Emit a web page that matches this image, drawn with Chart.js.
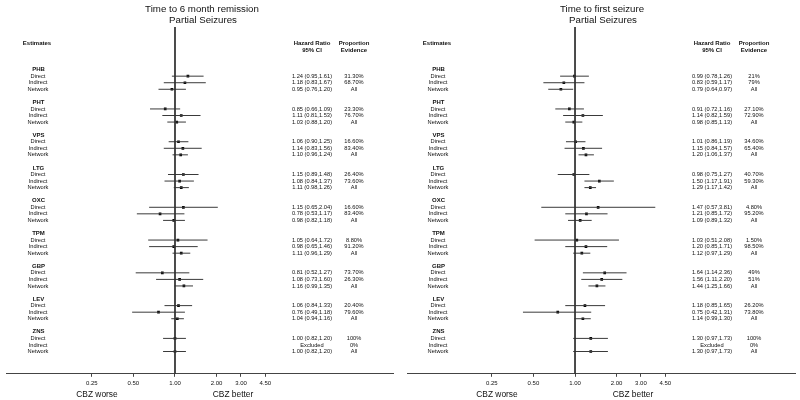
<!DOCTYPE html>
<html>
<head>
<meta charset="utf-8">
<script src="https://cdn.jsdelivr.net/npm/chart.js@4.4.1/dist/chart.umd.min.js"></script>
<style>
  body { margin: 0; background: #fff; }
  canvas { position: absolute; top: 0; }
</style>
</head>
<body>
<canvas id="remission" width="400" height="400" style="left:0"></canvas>
<canvas id="seizure" width="400" height="400" style="left:400px"></canvas>
<script>
const drugs = ["PHB", "PHT", "VPS", "LTG", "OXC", "TPM", "GBP", "LEV", "ZNS"];
const estimates = ["Direct", "Indirect", "Network"];
const axisTicks = [0.25, 0.5, 1, 2, 3, 4.5];

// time to 6 month remission (3 rows per drug: direct, indirect, network)
const remHR = [1.24, 1.18, 0.95, 0.85, 1.11, 1.03, 1.06, 1.14, 1.10, 1.15, 1.08, 1.11, 1.15, 0.78, 0.98,
  1.05, 0.98, 1.11, 0.81, 1.08, 1.16, 1.06, 0.76, 1.04, 1.00, null, 1.00];
const remLo = [0.95, 0.83, 0.76, 0.66, 0.81, 0.88, 0.90, 0.83, 0.96, 0.89, 0.84, 0.98, 0.65, 0.53, 0.82,
  0.64, 0.65, 0.96, 0.52, 0.73, 0.99, 0.84, 0.49, 0.94, 0.82, null, 0.82];
const remHi = [1.61, 1.67, 1.20, 1.09, 1.53, 1.20, 1.25, 1.56, 1.24, 1.48, 1.37, 1.26, 2.04, 1.17, 1.18,
  1.72, 1.46, 1.29, 1.27, 1.60, 1.35, 1.33, 1.18, 1.16, 1.20, null, 1.20];
const remProp = ["31.30%", "68.70%", "All", "23.30%", "76.70%", "All", "16.60%", "83.40%", "All",
  "26.40%", "73.60%", "All", "16.60%", "83.40%", "All", "8.80%", "91.20%", "All",
  "73.70%", "26.30%", "All", "20.40%", "79.60%", "All", "100%", "0%", "All"];

// time to first seizure
const seizHR = [0.99, 0.83, 0.79, 0.91, 1.14, 0.98, 1.01, 1.15, 1.20, 0.98, 1.50, 1.29, 1.47, 1.21, 1.09,
  1.03, 1.20, 1.12, 1.64, 1.56, 1.44, 1.18, 0.75, 1.14, 1.30, null, 1.30];
const seizLo = [0.78, 0.59, 0.64, 0.72, 0.82, 0.85, 0.86, 0.84, 1.06, 0.75, 1.17, 1.17, 0.57, 0.85, 0.89,
  0.51, 0.85, 0.97, 1.14, 1.11, 1.25, 0.85, 0.42, 0.99, 0.97, null, 0.97];
const seizHi = [1.26, 1.17, 0.97, 1.16, 1.59, 1.13, 1.19, 1.57, 1.37, 1.27, 1.91, 1.42, 3.81, 1.72, 1.32,
  2.08, 1.71, 1.29, 2.36, 2.20, 1.66, 1.65, 1.31, 1.30, 1.73, null, 1.73];
const seizProp = ["21%", "79%", "All", "27.10%", "72.90%", "All", "34.60%", "65.40%", "All",
  "40.70%", "59.30%", "All", "4.80%", "95.20%", "All", "1.50%", "98.50%", "All",
  "49%", "51%", "All", "26.20%", "73.80%", "All", "100%", "0%", "All"];

const FONT = "'Liberation Sans', Arial, sans-serif";
const rowOf = (i) => Math.floor(i / 3) * 5 + 1 + (i % 3);

function makeChart(id, titleLines, hr, lo, hi, prop, pad, xMin, xMax) {
  let datasets = [];
  datasets.push({
    data: [{x: 1, y: -6.5}, {x: 1, y: 46.4}],
    showLine: true, borderColor: "#333", borderWidth: 1, pointRadius: 0
  });
  hr.forEach((v, i) => {
    if (v === null) return;
    datasets.push({
      data: [{x: lo[i], y: rowOf(i)}, {x: hi[i], y: rowOf(i)}],
      showLine: true, borderColor: "#3a3a3a", borderWidth: 1, pointRadius: 0
    });
  });
  datasets.push({
    data: hr.map((v, i) => v === null ? null : {x: v, y: rowOf(i)}).filter(p => p),
    pointStyle: "rect", pointRadius: 1.9, backgroundColor: "#000", borderWidth: 0
  });

  const textPlugin = {
    id: "forestText",
    afterDraw(chart) {
      const ctx = chart.ctx;
      const y = chart.scales.y;
      ctx.save();
      ctx.fillStyle = "#111";
      ctx.textAlign = "center";
      ctx.textBaseline = "middle";

      ctx.font = "9.7px " + FONT;
      ctx.fillText(titleLines[0], 202, 9);
      ctx.fillText(titleLines[1], 203, 20);

      ctx.font = "bold 6px " + FONT;
      ctx.fillText("Estimates", 37, y.getPixelForValue(-4));
      ctx.fillText("Hazard Ratio", 312, y.getPixelForValue(-4));
      ctx.fillText("95% CI", 312, y.getPixelForValue(-3));
      ctx.fillText("Proportion", 354, y.getPixelForValue(-4));
      ctx.fillText("Evidence", 354, y.getPixelForValue(-3));

      drugs.forEach((d, g) => {
        ctx.font = "bold 6px " + FONT;
        ctx.fillText(d, 38.5, y.getPixelForValue(g * 5));
      });
      ctx.font = "5.7px " + FONT;
      hr.forEach((v, i) => {
        const py = y.getPixelForValue(rowOf(i));
        ctx.fillText(estimates[i % 3], 38, py);
        const ci = v === null ? "Excluded"
          : v.toFixed(2) + " (" + lo[i].toFixed(2) + "," + hi[i].toFixed(2) + ")";
        ctx.fillText(ci, 312, py);
        ctx.fillText(prop[i], 354, py);
      });

      ctx.font = "8.4px " + FONT;
      ctx.fillText("CBZ worse", 97, 394.5);
      ctx.fillText("CBZ better", 233, 394.5);
      ctx.restore();
    }
  };

  new Chart(document.getElementById(id), {
    type: "scatter",
    data: {datasets: datasets},
    options: {
      responsive: false,
      animation: false,
      layout: {padding: pad},
      plugins: {legend: {display: false}, tooltip: {enabled: false}},
      scales: {
        x: {
          type: "logarithmic",
          min: xMin,
          max: xMax,
          afterBuildTicks: (scale) => {
            scale.ticks = axisTicks.map(v => ({value: v}));
          },
          ticks: {
            autoSkip: false,
            maxRotation: 0,
            padding: 3,
            color: "#111",
            font: {size: 6, family: FONT},
            callback: (value) => Number(value).toFixed(2)
          },
          grid: {drawOnChartArea: false, drawTicks: true, tickLength: 3, color: "#444"},
          border: {display: true, color: "#444", width: 1}
        },
        y: {
          type: "linear",
          reverse: true,
          min: -6.5,
          max: 46.4,
          display: false
        }
      }
    },
    plugins: [textPlugin]
  });
}

makeChart("remission", ["Time to 6 month remission", "Partial Seizures"],
  remHR, remLo, remHi, remProp, {top: 27, left: 6, right: 7, bottom: 10}, 0.06, 37.7);
makeChart("seizure", ["Time to first seizure", "Partial Seizures"],
  seizHR, seizLo, seizHi, seizProp, {top: 27, left: 7, right: 5, bottom: 10}, 0.0608, 39.1);
</script>
</body>
</html>
